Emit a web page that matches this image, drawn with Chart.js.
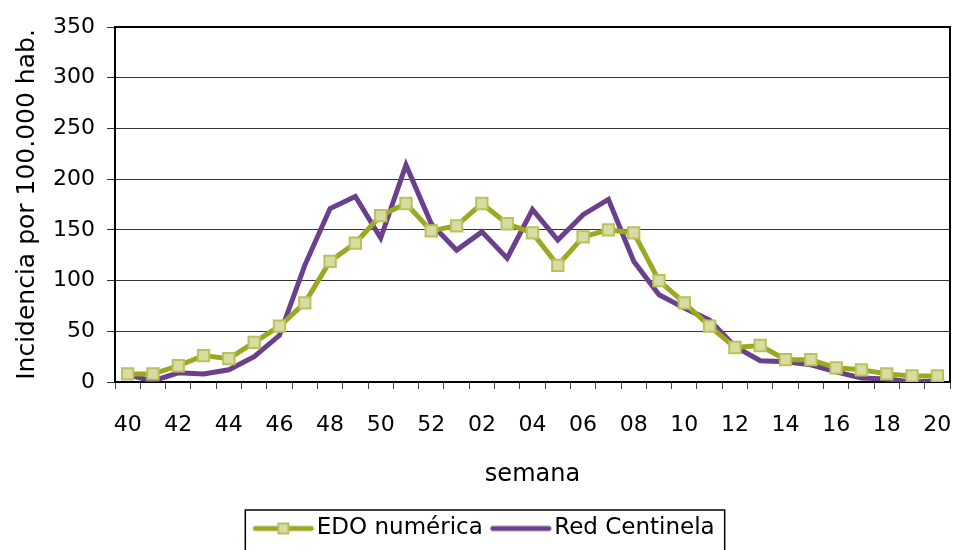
<!DOCTYPE html>
<html><head><meta charset="utf-8">
<script src="https://cdn.jsdelivr.net/npm/chart.js@4/dist/chart.umd.min.js"></script>
<style>html,body{margin:0;padding:0;background:#fff}</style>
</head><body>
<canvas id="c" width="955" height="550"></canvas>
<script>
const weeks = ['40','41','42','43','44','45','46','47','48','49','50','51','52',
  '01','02','03','04','05','06','07','08','09','10','11','12','13','14','15','16','17','18','19','20'];
const edoNumerica = [8,8,16,26,23,39,55,78,119,137,164,176,149,
  154,176,156,147,115,143,150,147,100,78,55,34,36,22,22,14,12,8,6,6];
const redCentinela = [7,1,9,8,12,25,46,115,171,183,142,214,156,
  130,148,122,170,140,165,180,119,86,73,61,35,21,20,17,10,4,3,0,1];
const yTickValues = [0,50,100,150,200,250,300,350];

const GREEN = '#9ba922', PURPLE = '#6a3f8b', MFILL = '#d9dca2', MBORDER = '#b9c25a';
const FONT = "'DejaVu Sans', sans-serif";

function sample(color, marker) {
  const c = document.createElement('canvas');
  c.width = 72; c.height = 16;
  const x = c.getContext('2d');
  x.strokeStyle = color; x.lineWidth = 5; x.lineCap = 'round';
  x.beginPath(); x.moveTo(12, 8); x.lineTo(68, 8); x.stroke();
  if (marker) {
    x.fillStyle = MFILL; x.fillRect(35, 3, 10, 10);
    x.strokeStyle = MBORDER; x.lineWidth = 2; x.strokeRect(35, 3, 10, 10);
  }
  return c;
}
const legendImgs = [sample(GREEN, true), sample(PURPLE, false)];

const framePlugin = {
  id: 'frame',
  afterLayout(chart) {
    const lg = chart.legend;
    if (lg) { lg.left += 9; lg.right += 9; }
  },
  beforeDatasetsDraw(chart) {
    const {ctx, chartArea: a} = chart;
    ctx.save();
    ctx.strokeStyle = '#000'; ctx.lineWidth = 2;
    ctx.beginPath();
    ctx.moveTo(a.left, a.top); ctx.lineTo(a.right, a.top); ctx.lineTo(a.right, a.bottom);
    ctx.stroke();
    ctx.restore();
  },
  afterDraw(chart) {
    const lg = chart.legend;
    if (!lg || !lg.legendHitBoxes) return;
    const hb = lg.legendHitBoxes;
    const l = Math.min(...hb.map(h => h.left)) - 8;
    const r = Math.max(...hb.map(h => h.left + h.width)) + 10;
    const ctx = chart.ctx;
    ctx.save();
    ctx.strokeStyle = '#000'; ctx.lineWidth = 1.5;
    ctx.strokeRect(l, lg.top + 1, r - l, 60);
    ctx.restore();
  }
};

new Chart(document.getElementById('c'), {
  type: 'line',
  data: {
    labels: weeks,
    datasets: [
      { label: 'EDO numérica', data: edoNumerica, borderColor: GREEN, backgroundColor: MFILL,
        borderWidth: 5, tension: 0, pointStyle: 'rect', pointRadius: 8, pointHoverRadius: 8,
        pointBackgroundColor: MFILL, pointBorderColor: MBORDER, pointBorderWidth: 2 },
      { label: 'Red Centinela', data: redCentinela, borderColor: PURPLE, backgroundColor: PURPLE,
        borderWidth: 5, tension: 0, pointRadius: 0, pointHoverRadius: 0 }
    ]
  },
  options: {
    responsive: false,
    animation: false,
    layout: { autoPadding: false, padding: { top: 27, right: 5, left: 0, bottom: 0 } },
    plugins: {
      tooltip: { enabled: false },
      legend: {
        position: 'bottom',
        labels: {
          usePointStyle: true, pointStyleWidth: 52, padding: 8, color: '#000',
          font: { family: FONT, size: 23 },
          generateLabels(chart) {
            const items = Chart.defaults.plugins.legend.labels.generateLabels(chart);
            items.forEach((it, i) => { it.pointStyle = legendImgs[i]; });
            return items;
          }
        }
      }
    },
    scales: {
      x: {
        offset: true,
        grid: { offset: true, drawOnChartArea: false, drawTicks: true, tickLength: 7, color: '#444', lineWidth: 1 },
        border: { display: true, color: '#000', width: 2 },
        ticks: {
          autoSkip: false, maxRotation: 0, color: '#000', padding: 23,
          font: { family: FONT, size: 22 },
          callback(v, i) { return i % 2 === 0 ? weeks[i] : ''; }
        },
        title: { display: true, text: 'semana', color: '#000', font: { family: FONT, size: 24 },
          padding: { top: 0, bottom: 20 } },
        afterFit(s) { s.height = 127; s.paddingLeft = 0; s.paddingRight = 0; }
      },
      y: {
        min: 0, max: 350,
        afterBuildTicks(s) { s.ticks = yTickValues.map(v => ({ value: v })); },
        grid: { color: '#333', lineWidth: 1, tickLength: 8, drawTicks: true },
        border: { display: true, color: '#000', width: 2 },
        ticks: { color: '#000', padding: 12, font: { family: FONT, size: 22 } },
        title: { display: true, text: 'Incidencia por 100.000 hab.', color: '#000',
          font: { family: FONT, size: 25 }, padding: { top: 12, bottom: 0 } },
        afterFit(s) { s.width = 115; s.paddingTop = 0; s.paddingBottom = 0; }
      }
    }
  },
  plugins: [framePlugin]
});
</script>
</body></html>
